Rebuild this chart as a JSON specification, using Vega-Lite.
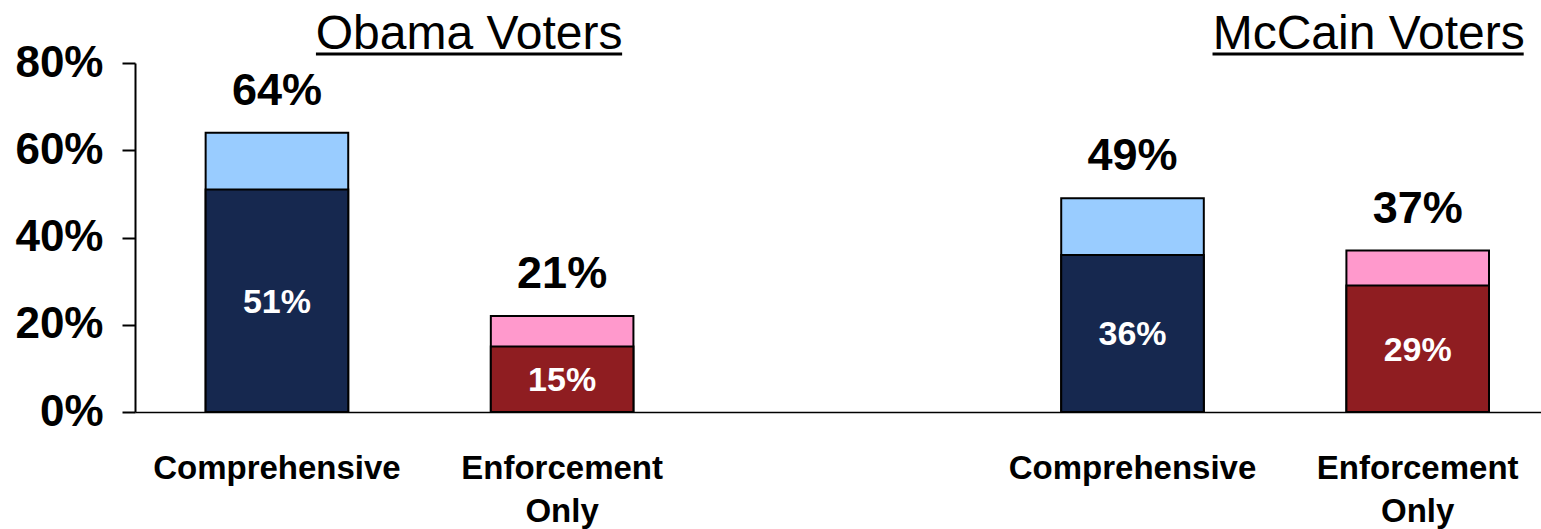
{
  "$schema": "https://vega.github.io/schema/vega-lite/v6.json",
  "width": 1406,
  "height": 349,
  "autosize": {"type": "none"},
  "padding": {"left": 135, "top": 63, "right": 0, "bottom": 117},
  "background": "white",
  "config": {"view": {"stroke": null}, "font": "Liberation Sans"},
  "datasets": {
    "bars": [
      {"key": "Obama|Comprehensive", "voters": "Obama", "policy": "Comprehensive", "strong": 0.51, "total": 0.64, "totalLabel": "64%"},
      {"key": "Obama|Enforcement Only", "voters": "Obama", "policy": "Enforcement Only", "strong": 0.15, "total": 0.22, "totalLabel": "21%"},
      {"key": "McCain|Comprehensive", "voters": "McCain", "policy": "Comprehensive", "strong": 0.36, "total": 0.49, "totalLabel": "49%"},
      {"key": "McCain|Enforcement Only", "voters": "McCain", "policy": "Enforcement Only", "strong": 0.29, "total": 0.37, "totalLabel": "37%"}
    ],
    "titles": [
      {"voters": "Obama", "title": "Obama Voters"},
      {"voters": "McCain", "title": "McCain Voters"}
    ]
  },
  "layer": [
    {
      "data": {"name": "bars"},
      "encoding": {
        "x": {
          "field": "key",
          "type": "nominal",
          "scale": {
            "domain": ["Obama|Comprehensive", "Obama|Enforcement Only", "gap", "McCain|Comprehensive", "McCain|Enforcement Only"],
            "paddingInner": 0.5,
            "paddingOuter": 0.215,
            "align": 0.576
          },
          "axis": {
            "title": null,
            "ticks": false,
            "tickSize": 0,
            "labelPadding": 40,
            "labelAngle": 0,
            "labelFont": "Liberation Sans",
            "labelFontSize": 33,
            "labelFontWeight": "bold",
            "labelColor": "black",
            "labelLineHeight": 43,
            "labelOverlap": false,
            "labelLimit": 0,
            "labelExpr": "indexof(datum.value, 'Enforcement') >= 0 ? ['Enforcement', 'Only'] : (datum.value === 'gap' ? '' : 'Comprehensive')",
            "domainColor": "black",
            "domainWidth": 1.5,
            "grid": false
          }
        },
        "y": {
          "field": "total",
          "type": "quantitative",
          "scale": {"domain": [0, 0.8], "nice": false, "zero": true},
          "axis": {
            "title": null,
            "values": [0, 0.2, 0.4, 0.6, 0.8],
            "format": ".0%",
            "grid": false,
            "labelFont": "Liberation Sans",
            "labelFontSize": 44,
            "labelFontWeight": "bold",
            "labelColor": "black",
            "labelPadding": 19,
            "tickSize": 13,
            "tickColor": "black",
            "tickWidth": 2,
            "domainColor": "black",
            "domainWidth": 2
          }
        }
      },
      "layer": [
        {
          "mark": {"type": "bar", "stroke": "black", "strokeWidth": 2},
          "encoding": {
            "y": {"field": "total", "type": "quantitative"},
            "fill": {"condition": {"test": "datum.policy === 'Comprehensive'", "value": "#99ccff"}, "value": "#ff99cc"}
          }
        },
        {
          "mark": {"type": "bar", "stroke": "black", "strokeWidth": 2},
          "encoding": {
            "y": {"field": "strong", "type": "quantitative"},
            "fill": {"condition": {"test": "datum.policy === 'Comprehensive'", "value": "#16284f"}, "value": "#8f1d21"}
          }
        },
        {
          "mark": {"type": "text", "fontSize": 45, "fontWeight": "bold", "color": "black", "baseline": "middle", "dy": -42},
          "encoding": {
            "y": {"field": "total", "type": "quantitative"},
            "text": {"field": "totalLabel"}
          }
        },
        {
          "transform": [{"calculate": "datum.strong / 2", "as": "strongMid"}],
          "mark": {"type": "text", "fontSize": 34, "fontWeight": "bold", "color": "white", "baseline": "middle", "dy": 2},
          "encoding": {
            "y": {"field": "strongMid", "type": "quantitative"},
            "text": {"field": "strong", "format": ".0%"}
          }
        }
      ]
    },
    {
      "data": {"name": "titles"},
      "transform": [{"filter": "datum.voters === 'Obama'"}],
      "layer": [
        {
          "mark": {"type": "text", "fontSize": 48, "fontWeight": "normal", "color": "black", "baseline": "alphabetic", "align": "center", "dx": -93, "dy": -14},
          "encoding": {
            "x": {"datum": "Obama|Enforcement Only", "type": "nominal"},
            "y": {"datum": 0.8, "type": "quantitative"},
            "text": {"field": "title"}
          }
        },
        {
          "mark": {"type": "rule", "color": "black", "strokeWidth": 3, "xOffset": 39, "x2Offset": 60, "yOffset": -9},
          "encoding": {
            "x": {"datum": "Obama|Comprehensive", "type": "nominal"},
            "x2": {"datum": "Obama|Enforcement Only"},
            "y": {"datum": 0.8, "type": "quantitative"}
          }
        }
      ]
    },
    {
      "data": {"name": "titles"},
      "transform": [{"filter": "datum.voters === 'McCain'"}],
      "layer": [
        {
          "mark": {"type": "text", "fontSize": 48, "fontWeight": "normal", "color": "black", "baseline": "alphabetic", "align": "center", "dx": -49, "dy": -14},
          "encoding": {
            "x": {"datum": "McCain|Enforcement Only", "type": "nominal"},
            "y": {"datum": 0.8, "type": "quantitative"},
            "text": {"field": "title"}
          }
        },
        {
          "mark": {"type": "rule", "color": "black", "strokeWidth": 3, "xOffset": 80, "x2Offset": 106, "yOffset": -9},
          "encoding": {
            "x": {"datum": "McCain|Comprehensive", "type": "nominal"},
            "x2": {"datum": "McCain|Enforcement Only"},
            "y": {"datum": 0.8, "type": "quantitative"}
          }
        }
      ]
    }
  ]
}
